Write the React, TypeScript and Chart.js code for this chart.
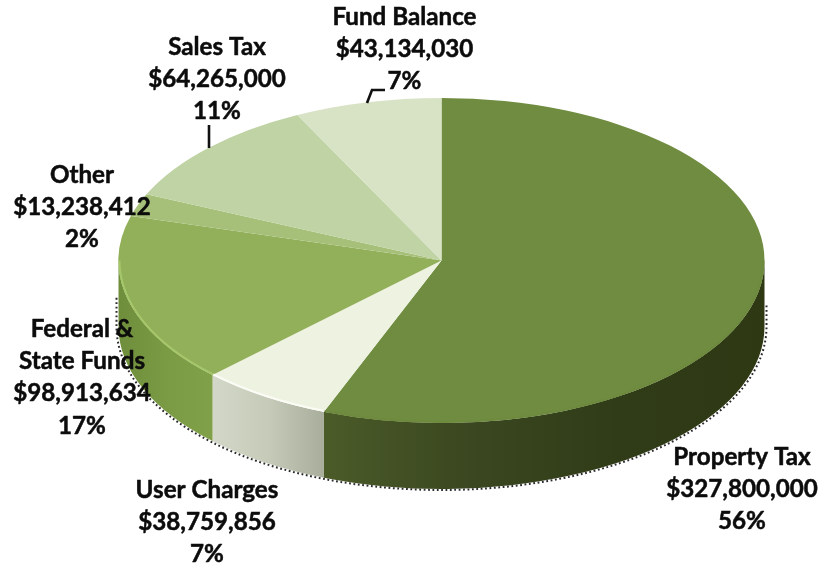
import React, { useEffect, useRef } from "react";
import { Chart, registerables } from "chart.js";

Chart.register(...registerables);

const categories: string[][] = [
  ["Property Tax"],
  ["User Charges"],
  ["Federal &", "State Funds"],
  ["Other"],
  ["Sales Tax"],
  ["Fund Balance"],
];
const amounts = [327800000, 38759856, 98913634, 13238412, 64265000, 43134030];
const topColors = ["#708C40", "#EDF2E1", "#92AF59", "#A6C079", "#BFD3A4", "#D8E3C6"];
const rimColors = ["#6E8A3E", "#FBFCF6", "#A5C76A", "#A6C079", "#BFD3A4", "#D8E3C6"];
const sideStops = [
  ["#4B5B28", "#3A4720", "#303C17", "#2E3914"],
  ["#D2D7C7", "#C6CBB9", "#A9AE9C"],
  ["#6F8E3C", "#7A9A44", "#80A148"],
  ["#80A148", "#80A148"],
  ["#80A148", "#80A148"],
  ["#80A148", "#80A148"],
];
const labelCenters = [
  { x: 742, y: 457 },
  { x: 207, y: 490 },
  { x: 82, y: 329 },
  { x: 82, y: 175 },
  { x: 217, y: 47 },
  { x: 404.5, y: 17 },
];
const leaderLines = [
  [[209, 125], [209, 148]],
  [[367, 103], [372, 90], [385, 90]],
];

const RX = 323;
const RY = 162.5;
const DEPTH = 66;
const LINE = 32.3;
const FONT = "bold 24.2px Lato";

function clampedFront(start: number, end: number) {
  const a = Math.max(start, 0);
  const b = Math.min(end, Math.PI);
  return b > a ? [a, b] : null;
}

const pie3d = {
  id: "pie3d",
  beforeDatasetsDraw(chart: any) {
    const ctx = chart.ctx;
    const arcs = chart.getDatasetMeta(0).data;
    const cx = arcs[0].x;
    const cy = arcs[0].y;
    arcs.forEach((arc: any, i: number) => {
      const range = clampedFront(arc.startAngle, arc.endAngle);
      if (!range) return;
      const [a, b] = range;
      const x0 = cx + RX * Math.cos(b);
      const x1 = cx + RX * Math.cos(a);
      const g = ctx.createLinearGradient(x0, 0, x1, 0);
      sideStops[i].forEach((c, k) => g.addColorStop(k / (sideStops[i].length - 1), c));
      ctx.beginPath();
      ctx.ellipse(cx, cy, RX, RY, 0, a, b);
      ctx.ellipse(cx, cy + DEPTH, RX, RY, 0, b, a, true);
      ctx.closePath();
      ctx.fillStyle = g;
      ctx.fill();
    });
    ctx.save();
    ctx.setLineDash([1.8, 2.6]);
    ctx.lineWidth = 2;
    ctx.strokeStyle = "#2A2A2A";
    ctx.beginPath();
    ctx.moveTo(cx + RX + 2, cy + 45);
    ctx.lineTo(cx + RX + 2, cy + DEPTH);
    ctx.ellipse(cx, cy + DEPTH, RX + 2, RY + 1, 0, 0, Math.PI);
    ctx.lineTo(cx - RX - 2, cy + 35);
    ctx.stroke();
    ctx.restore();
    ctx.save();
    ctx.translate(cx, cy);
    ctx.scale(1, RY / RX);
    ctx.translate(-cx, -cy);
  },
  afterDatasetsDraw(chart: any) {
    const ctx = chart.ctx;
    ctx.restore();
    const arcs = chart.getDatasetMeta(0).data;
    const cx = arcs[0].x;
    const cy = arcs[0].y;
    arcs.forEach((arc: any, i: number) => {
      const range = clampedFront(arc.startAngle, arc.endAngle);
      if (!range) return;
      ctx.beginPath();
      ctx.ellipse(cx, cy, RX - 1, RY - 1, 0, range[0], range[1]);
      ctx.strokeStyle = rimColors[i];
      ctx.lineWidth = 2;
      ctx.stroke();
    });
    const total = amounts.reduce((s, v) => s + v, 0);
    ctx.save();
    ctx.strokeStyle = "#111";
    ctx.lineWidth = 2.6;
    leaderLines.forEach((pts) => {
      ctx.beginPath();
      pts.forEach(([x, y], k) => (k ? ctx.lineTo(x, y) : ctx.moveTo(x, y)));
      ctx.stroke();
    });
    ctx.fillStyle = "#0C0C0C";
    ctx.strokeStyle = "#0C0C0C";
    ctx.lineWidth = 0.5;
    ctx.lineJoin = "round";
    ctx.font = FONT;
    ctx.textAlign = "center";
    ctx.textBaseline = "middle";
    categories.forEach((name, i) => {
      const lines = [
        ...name,
        "$" + amounts[i].toLocaleString("en-US"),
        Math.round((amounts[i] / total) * 100) + "%",
      ];
      lines.forEach((t, k) => {
        ctx.fillText(t, labelCenters[i].x, labelCenters[i].y + k * LINE);
        ctx.strokeText(t, labelCenters[i].x, labelCenters[i].y + k * LINE);
      });
    });
    ctx.restore();
  },
};

export default function App() {
  const ref = useRef<HTMLCanvasElement>(null);
  useEffect(() => {
    const chart = new Chart(ref.current!, {
      type: "pie",
      data: {
        labels: categories.map((c) => c.join(" ")),
        datasets: [
          {
            data: amounts,
            backgroundColor: topColors,
            borderWidth: 0,
            clip: false,
          } as any,
        ],
      },
      options: {
        responsive: false,
        animation: false,
        radius: RX,
        layout: { padding: { left: 50, bottom: 44 } },
        plugins: { legend: { display: false }, tooltip: { enabled: false } },
      } as any,
      plugins: [pie3d],
    });
    return () => chart.destroy();
  }, []);
  return (
    <div style={{ position: "absolute", left: 0, top: 0, width: 833, height: 565, background: "#fff" }}>
      <canvas ref={ref} width={833} height={565} style={{ display: "block" }} />
    </div>
  );
}
